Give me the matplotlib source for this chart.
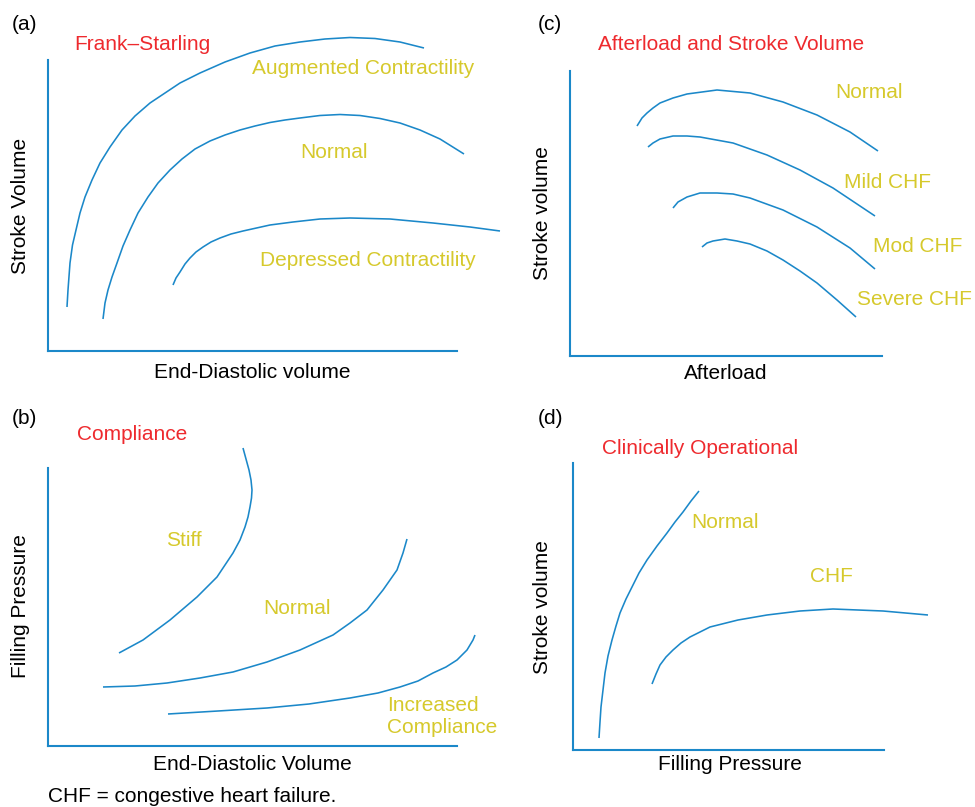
import matplotlib.pyplot as plt

plt.rcParams['font.family'] = ['Liberation Sans', 'DejaVu Sans']

BLUE = '#1b88c9'
RED = '#ee2a2e'
YEL = '#d6c92c'
FS = 15

# (a) Frank-Starling: curves (arbitrary units)
a_aug_x = [19, 20, 22, 24.5, 28, 32, 37, 44, 52, 62, 74, 87, 102, 117, 132, 152,
           177, 202, 227, 252, 277, 302, 327, 352, 376]
a_aug_y = [44, 61, 88, 106, 121, 138, 154, 171, 188, 204, 221, 235, 248, 258, 268, 278,
           289, 298, 305, 309, 312, 313.5, 312.5, 309, 303]
a_norm_x = [55, 57, 60, 64, 69, 75, 82, 90, 100, 110, 122, 134, 147, 162, 177, 192,
            207, 222, 237, 252, 272, 292, 312, 332, 352, 372, 392, 416]
a_norm_y = [32, 48, 61, 74, 88, 105, 121, 138, 154, 168, 181, 192, 202, 210, 216, 221,
            225, 228.5, 231, 233, 235.5, 236.5, 235.5, 232.5, 228, 221, 212, 197]
a_dep_x = [125, 128, 132, 137, 142, 148, 155, 163, 172, 183, 195, 222, 245, 272, 302,
           342, 385, 422, 452]
a_dep_y = [66, 73, 79, 87, 93, 99, 104, 109, 113, 117, 120, 126, 129, 132, 133,
           132, 128, 124, 120]

# (b) Compliance
b_stiff_x = [71, 95, 122, 149, 169, 185, 192, 197, 200, 202, 203.5, 204, 203, 201, 198, 195]
b_stiff_y = [93, 106, 126, 149, 169, 193, 206, 219, 229, 239, 248, 256, 266, 276, 287, 298]
b_norm_x = [55, 87, 119, 152, 185, 219, 252, 285, 302, 319, 335, 349, 355, 359]
b_norm_y = [59, 60, 63, 68, 74, 84, 96, 111, 123, 136, 156, 176, 193, 207]
b_inc_x = [120, 170, 219, 261, 302, 330, 352, 370, 385, 398, 409, 419, 425, 427]
b_inc_y = [32, 35, 38, 42, 48, 53, 59, 65, 73, 79, 86, 96, 106, 111]

# (c) Afterload and stroke volume
c_norm_x = [67, 72, 77, 83, 90, 103, 117, 147, 180, 213, 247, 280, 308]
c_norm_y = [230, 238, 243, 248, 253, 258, 262, 266, 263, 254, 241, 224, 205]
c_mild_x = [78, 83, 90, 103, 117, 130, 163, 197, 230, 263, 305]
c_mild_y = [209, 213, 217, 220, 220, 219, 213, 201, 186, 168, 140]
c_mod_x = [103, 108, 117, 130, 147, 163, 180, 213, 247, 280, 305]
c_mod_y = [148, 154, 159, 163, 163, 162, 158, 146, 129, 108, 87]
c_sev_x = [132, 137, 143, 155, 167, 180, 197, 213, 230, 247, 267, 286]
c_sev_y = [109, 113, 115, 117, 115, 112, 105, 96, 85, 73, 56, 39]

# (d) Clinically operational
d_norm_x = [26, 27, 28, 30, 32, 35, 39, 43, 47, 53, 59, 66, 74, 84, 94, 102, 110, 118, 126]
d_norm_y = [12, 28, 43, 60, 77, 94, 110, 124, 137, 151, 163, 177, 190, 204, 217, 228, 238, 249, 259]
d_chf_x = [79, 83, 87, 93, 100, 108, 117, 137, 165, 194, 227, 260, 310, 355]
d_chf_y = [66, 76, 85, 93, 100, 107, 113, 123, 130, 135, 139, 141, 139, 135]

W, H = 975, 807
fig = plt.figure(figsize=(9.75, 8.07), dpi=100)


def make_ax(left, top, right, bottom):
    ax = fig.add_axes([left / W, (H - bottom) / H, (right - left) / W, (bottom - top) / H])
    ax.set_xlim(0, right - left)
    ax.set_ylim(0, bottom - top)
    for s in ['top', 'right']:
        ax.spines[s].set_visible(False)
    for s in ['left', 'bottom']:
        ax.spines[s].set_color(BLUE)
        ax.spines[s].set_linewidth(1.5)
    ax.set_xticks([])
    ax.set_yticks([])
    ax.patch.set_alpha(0)
    return ax


def curve(ax, x, y):
    ax.plot(x, y, color=BLUE, lw=1.15, clip_on=False,
            solid_capstyle='butt', solid_joinstyle='round')


def txt(ax, x, y, s, c, ha='left', va='center', **kw):
    ax.text(x, y, s, color=c, fontsize=FS, ha=ha, va=va, clip_on=False, **kw)


# panel (a)
ax = make_ax(48, 60, 457, 351)
curve(ax, a_aug_x, a_aug_y)
curve(ax, a_norm_x, a_norm_y)
curve(ax, a_dep_x, a_dep_y)
txt(ax, -36, 326, '(a)', 'black')
txt(ax, 26, 307, 'Frank–Starling', RED)
txt(ax, 204, 283, 'Augmented Contractility', YEL)
txt(ax, 252, 199, 'Normal', YEL)
txt(ax, 212, 91, 'Depressed Contractility', YEL)
txt(ax, -27, 145, 'Stroke Volume', 'black', ha='center', rotation=90)
txt(ax, 204, -22, 'End-Diastolic volume', 'black', ha='center')

# panel (c)
ax = make_ax(570, 71, 882, 356)
curve(ax, c_norm_x, c_norm_y)
curve(ax, c_mild_x, c_mild_y)
curve(ax, c_mod_x, c_mod_y)
curve(ax, c_sev_x, c_sev_y)
txt(ax, -32, 331, '(c)', 'black')
txt(ax, 28, 312, 'Afterload and Stroke Volume', RED)
txt(ax, 265, 264, 'Normal', YEL)
txt(ax, 274, 174, 'Mild CHF', YEL)
txt(ax, 303, 109, 'Mod CHF', YEL)
txt(ax, 287, 57, 'Severe CHF', YEL)
txt(ax, -27, 143, 'Stroke volume', 'black', ha='center', rotation=90)
txt(ax, 156, -17, 'Afterload', 'black', ha='center')

# panel (b)
ax = make_ax(48, 468, 457, 746)
curve(ax, b_stiff_x, b_stiff_y)
curve(ax, b_norm_x, b_norm_y)
curve(ax, b_inc_x, b_inc_y)
txt(ax, -36, 328, '(b)', 'black')
txt(ax, 29, 311, 'Compliance', RED)
txt(ax, 118, 206, 'Stiff', YEL)
txt(ax, 215, 137, 'Normal', YEL)
txt(ax, 339, 29.5, 'Increased\nCompliance', YEL, linespacing=1.2)
txt(ax, -27, 140, 'Filling Pressure', 'black', ha='center', rotation=90)
txt(ax, 204, -19, 'End-Diastolic Volume', 'black', ha='center')
txt(ax, 0, -50, 'CHF = congestive heart failure.', 'black')

# panel (d)
ax = make_ax(573, 463, 884, 750)
curve(ax, d_norm_x, d_norm_y)
curve(ax, d_chf_x, d_chf_y)
txt(ax, -35, 332, '(d)', 'black')
txt(ax, 29, 302, 'Clinically Operational', RED)
txt(ax, 118, 228, 'Normal', YEL)
txt(ax, 237, 173, 'CHF', YEL)
txt(ax, -30, 143, 'Stroke volume', 'black', ha='center', rotation=90)
txt(ax, 157, -15, 'Filling Pressure', 'black', ha='center')

fig.savefig('out.png', dpi=100)
